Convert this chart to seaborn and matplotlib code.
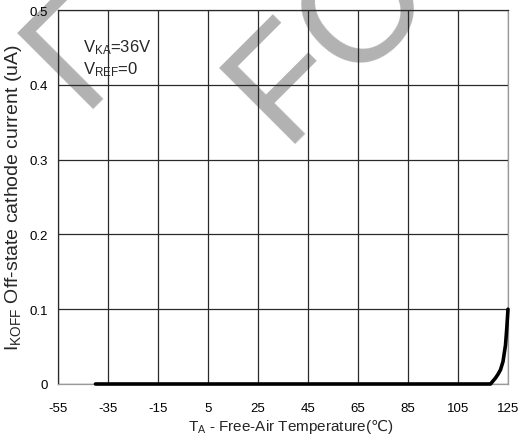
import numpy as np
import pandas as pd
import seaborn as sns
import matplotlib.pyplot as plt

# datos
temperatura = [-40, -20, 0, 20, 40, 60, 80, 100, 110, 115, 118, 119, 120, 121, 122, 123, 124, 124.5, 125]
corriente = [0, 0, 0, 0, 0, 0, 0, 0, 0, 0, 0, 0.004, 0.008, 0.013, 0.019, 0.03, 0.052, 0.074, 0.1]
xticks = [-55, -35, -15, 5, 25, 45, 65, 85, 105, 125]
yticks = [0, 0.1, 0.2, 0.3, 0.4, 0.5]
ytick_labels = ['0', '0.1', '0.2', '0.3', '0.4', '0.5']

sns.set_theme(style='white')
plt.rcParams['font.family'] = ['Liberation Sans', 'DejaVu Sans']
plt.rcParams['mathtext.fontset'] = 'custom'
plt.rcParams['mathtext.rm'] = 'Noto Sans CJK SC'
plt.rcParams['mathtext.default'] = 'regular'

df = pd.DataFrame({'T': temperatura, 'I': corriente})

fig = plt.figure(figsize=(5.2, 4.39), dpi=100)
ax = fig.add_axes([58 / 520, 1 - 385 / 439, 450 / 520, 374 / 439])

sns.lineplot(data=df, x='T', y='I', ax=ax, color='black', linewidth=2.6,
             clip_on=False, zorder=3)

ax.set_xlim(-55, 125)
ax.set_ylim(0, 0.5)
ax.set_xticks(xticks)
ax.set_xticklabels([str(t) for t in xticks])
ax.set_yticks(yticks)
ax.set_yticklabels(ytick_labels)
ax.tick_params(axis='x', length=0, pad=13, labelsize=9.5, colors='black')
ax.tick_params(axis='y', length=0, pad=7, labelsize=9.5, colors='black')
ax.grid(True, color='#2a2a2a', linewidth=0.9)

for lado, col in [('left', '#2a2a2a'), ('top', '#2a2a2a'),
                  ('right', '#9a9a9a'), ('bottom', '#9a9a9a')]:
    ax.spines[lado].set_visible(True)
    ax.spines[lado].set_color(col)
    ax.spines[lado].set_linewidth(0.9)

ax.set_xlabel(r'$T_A$ - Free-Air Temperature($\mathrm{℃}$)', fontsize=11, labelpad=4)
ax.xaxis.set_label_coords(0.517, -0.085)
ax.set_ylabel('$I_{KOFF}$ Off-state cathode current (uA)', fontsize=14, labelpad=4)

ax.text(0.055, 0.903, '$V_{KA}$=36V', transform=ax.transAxes, fontsize=12, va='center')
ax.text(0.055, 0.842, '$V_{REF}$=0', transform=ax.transAxes, fontsize=12, va='center')

# marca de agua (detras de la grilla y de los textos)
ax.text(81 / 520, 1 - 109 / 439, 'Г', transform=fig.transFigure, fontsize=112,
        color='#b2b2b2', rotation=45, rotation_mode='anchor', ha='left',
        va='baseline', clip_on=False, zorder=0.3)
ax.text(283 / 520, 1 - 145 / 439, 'FOR', transform=fig.transFigure, fontsize=112,
        color='#b2b2b2', rotation=45, rotation_mode='anchor', ha='left',
        va='baseline', clip_on=False, zorder=0.3)

fig.savefig('out.png', dpi=100)
